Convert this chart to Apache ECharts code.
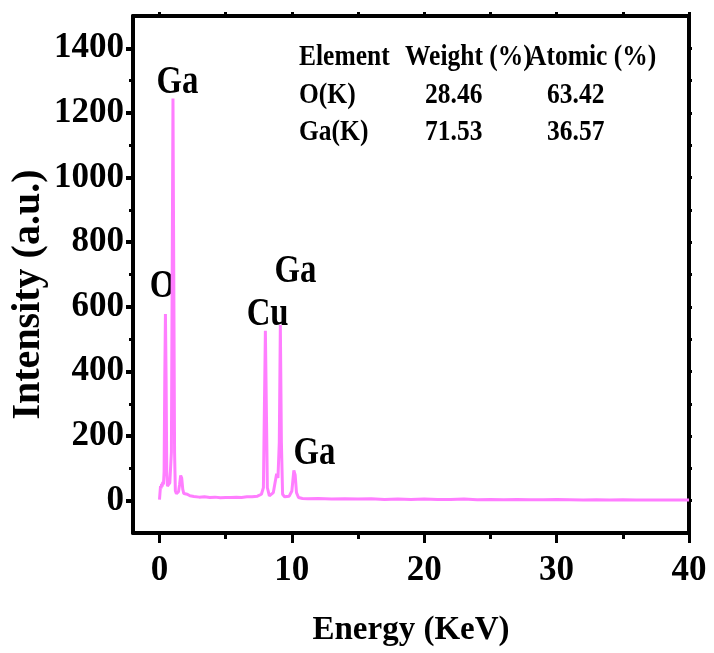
<!DOCTYPE html>
<html>
<head>
<meta charset="utf-8">
<script src="https://cdn.jsdelivr.net/npm/echarts@6/dist/echarts.min.js"></script>
<style>
  html, body { margin: 0; padding: 0; background: #fff; }
  #main { width: 714px; height: 653px; }
</style>
</head>
<body>
<div id="main"></div>
<script>
// EDS spectrum, values
const energy = [
  0.00, 0.04, 0.08, 0.12, 0.16, 0.20, 0.25, 0.30, 0.35, 0.40, 0.45, 0.50, 0.55, 0.60,
  0.66, 0.72, 0.78, 0.84, 0.90, 0.96, 1.02, 1.08, 1.14, 1.20, 1.28, 1.36, 1.44, 1.52,
  1.60, 1.68, 1.76, 1.84, 1.95, 2.10, 2.30, 2.60, 3.00, 3.40, 3.80, 4.20, 4.60, 5.00,
  5.40, 5.80, 6.20, 6.60, 7.00, 7.40, 7.70, 7.85, 7.93, 8.00, 8.07, 8.15, 8.30, 8.45,
  8.60, 8.75, 8.85, 8.95, 9.05, 9.13, 9.21, 9.30, 9.45, 9.60, 9.80, 10.00, 10.15, 10.25,
  10.35, 10.50, 10.80, 11.20, 12, 13, 14, 15, 16, 17, 18, 19, 20, 21, 22, 23, 24, 25,
  26, 27, 28, 29, 30, 31, 32, 33, 34, 35, 36, 37, 38, 39, 40
];
const intensity = [
  3, 25, 45, 38, 52, 44, 58, 50, 90, 380, 578, 380, 90, 45,
  50, 42, 55, 60, 150, 700, 1245, 700, 150, 30, 22, 20, 28, 50,
  78, 70, 35, 22, 18, 20, 15, 13, 11, 12, 10, 11, 9, 10,
  10, 11, 10, 12, 12, 14, 20, 40, 300, 526, 300, 40, 15, 12,
  25, 60, 83, 70, 180, 544, 180, 20, 12, 10, 14, 30, 94, 80,
  25, 10, 7, 6, 7, 5, 6, 5, 6, 4, 5, 4, 5, 4, 4, 5, 3, 4,
  3, 4, 3, 3, 4, 3, 2, 3, 2, 3, 2, 2, 2, 2, 2
];

const xMajor = [0, 10, 20, 30, 40];
const xMinor = [5, 15, 25, 35];
const xAll = [0, 5, 10, 15, 20, 25, 30, 35, 40];
const yMajor = [0, 200, 400, 600, 800, 1000, 1200, 1400];
const yMinor = [100, 300, 500, 700, 900, 1100, 1300];
const yAll = [0, 100, 200, 300, 400, 500, 600, 700, 800, 900, 1000, 1100, 1200, 1300, 1400];

const peakNames = ['O', 'Ga', 'Cu', 'Ga', 'Ga'];
const tableHead = ['Element', 'Weight (%)', 'Atomic (%)'];
const tableRows = [
  ['O(K)', '28.46', '63.42'],
  ['Ga(K)', '71.53', '36.57']
];

const serif = '"Liberation Serif", "Times New Roman", serif';
const pink = '#ff7eff';

let myChart = echarts.init(document.getElementById('main'));

// extra axes only carry tick marks (minor ticks, mirrored frame)
function plainAxis(extra) {
  return Object.assign({
    type: 'value',
    offset: 0,
    axisLine: { show: false },
    axisLabel: { show: false },
    splitLine: { show: false },
    axisTick: { show: false }
  }, extra);
}

const option = {
  animation: false,
  backgroundColor: '#fff',
  grid: { left: 133, right: 25, top: 16, bottom: 120, containLabel: false, outerBoundsMode: 'none' },
  xAxis: [
    {
      type: 'value', position: 'bottom', offset: 0, min: -2, max: 40,
      name: 'Energy (KeV)', nameLocation: 'middle', nameGap: 81,
      nameTextStyle: { fontFamily: serif, fontWeight: 'bold', fontSize: 33, color: '#000' },
      axisLine: { show: true, onZero: false, lineStyle: { color: '#000', width: 4 } },
      axisTick: { show: true, inside: false, length: 10, customValues: xMajor, lineStyle: { color: '#000', width: 3 } },
      axisLabel: {
        show: true, margin: 20, customValues: xMajor, formatter: v => String(v),
        fontFamily: serif, fontWeight: 'bold', fontSize: 35, color: '#000'
      },
      splitLine: { show: false }
    },
    plainAxis({
      position: 'bottom', min: -2, max: 40,
      axisLine: { show: false, onZero: false },
      axisTick: { show: true, length: 6, customValues: xMinor, lineStyle: { color: '#000', width: 3 } }
    }),
    plainAxis({
      position: 'top', min: -2, max: 40,
      axisLine: { show: true, onZero: false, lineStyle: { color: '#000', width: 4 } },
      axisTick: { show: true, length: 4, customValues: xAll, lineStyle: { color: '#000', width: 3 } }
    })
  ],
  yAxis: [
    {
      type: 'value', position: 'left', offset: 0, min: -100, max: 1500,
      name: 'Intensity (a.u.)', nameLocation: 'middle', nameGap: 84, nameRotate: 90,
      nameMoveOverlap: false,
      nameTextStyle: { fontFamily: serif, fontWeight: 'bold', fontSize: 40, color: '#000', padding: [0, 40, 0, 0] },
      axisLine: { show: true, onZero: false, lineStyle: { color: '#000', width: 4 } },
      axisTick: { show: true, inside: false, length: 7, customValues: yMajor, lineStyle: { color: '#000', width: 4 } },
      axisLabel: {
        show: true, margin: 9, customValues: yMajor, formatter: v => String(v),
        fontFamily: serif, fontWeight: 'bold', fontSize: 35, color: '#000'
      },
      splitLine: { show: false }
    },
    plainAxis({
      position: 'left', min: -100, max: 1500,
      axisLine: { show: false, onZero: false },
      axisTick: { show: true, length: 4, customValues: yMinor, lineStyle: { color: '#000', width: 3 } }
    }),
    plainAxis({
      position: 'right', min: -100, max: 1500,
      axisLine: { show: true, onZero: false, lineStyle: { color: '#000', width: 4 } },
      axisTick: { show: true, length: 3, customValues: yAll, lineStyle: { color: '#000', width: 3 } }
    })
  ],
  series: [
    {
      type: 'line',
      xAxisIndex: 0,
      yAxisIndex: 0,
      showSymbol: false,
      smooth: false,
      lineStyle: { color: pink, width: 3 },
      data: energy.map((e, i) => [e, intensity[i]])
    }
  ]
};

myChart.setOption(option);

// peak labels and element table as text
const peakAt = [[0.23, 661], [1.36, 1295], [8.17, 575], [10.28, 708], [11.7, 145]];
let texts = [];
peakNames.forEach((name, i) => {
  const p = myChart.convertToPixel({ xAxisIndex: 0, yAxisIndex: 0 }, peakAt[i]);
  texts.push({
    type: 'text', x: p[0], y: p[1], scaleX: 0.82,
    style: { text: name, font: 'bold 40px ' + serif, fill: '#000', align: 'center', verticalAlign: 'middle' }
  });
});
const colX = [[299, 405, 528], [299, 425, 547]];
const rowY = [57, 95, 132];
[tableHead].concat(tableRows).forEach((row, r) => {
  row.forEach((cell, c) => {
    texts.push({
      type: 'text', x: colX[r === 0 ? 0 : 1][c], y: rowY[r], scaleX: 0.85,
      style: { text: cell, font: 'bold 30px ' + serif, fill: '#000', align: 'left', verticalAlign: 'middle' }
    });
  });
});
myChart.setOption({ graphic: texts });
</script>
</body>
</html>
